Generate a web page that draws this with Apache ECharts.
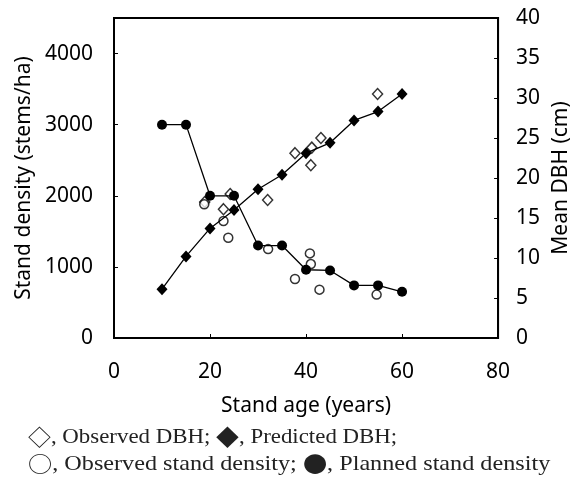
<!DOCTYPE html>
<html>
<head>
<meta charset="utf-8">
<script src="https://cdn.jsdelivr.net/npm/echarts@6/dist/echarts.min.js"></script>
<style>
  html, body { margin: 0; padding: 0; background: #fff; }
  #chart { width: 580px; height: 480px; }
</style>
</head>
<body>
<div id="chart"></div>
<script>
// stand age (years) of the model points
const ages = [10, 15, 20, 25, 30, 35, 40, 45, 50, 55, 60];
const predictedDbh = [6.1, 10.2, 13.7, 16.0, 18.6, 20.4, 23.1, 24.4, 27.2, 28.3, 30.5];
const plannedDensity = [3000, 3000, 2000, 2000, 1300, 1300, 960, 950, 740, 740, 650];

// field observations
const obsDbhAges = [18.9, 22.8, 24.2, 32.0, 37.7, 41.2, 41.0, 43.1, 54.9];
const obsDbh = [17.0, 16.1, 18.0, 17.25, 23.1, 23.8, 21.6, 25.0, 30.5];
const obsDensityAges = [18.8, 22.8, 23.8, 32.1, 37.7, 40.8, 41.0, 42.8, 54.7];
const obsDensity = [1880, 1645, 1410, 1250, 830, 1190, 1040, 680, 610];

// legend lines, {s|..} marks the symbol glyphs
const legendLines = [
  "{s|◇}, Observed DBH; {s|◆}, Predicted DBH;",
  "{s|○}, Observed stand density; {s|●}, Planned stand density"
];
const legendStretch = [1.04, 1.1];

const zip = (xs, ys) => xs.map((x, i) => [x, ys[i]]);

const chart = echarts.init(document.getElementById("chart"));

const tickFont = { color: "#000", fontSize: 21, fontFamily: "Noto Sans" };
const nameFont = { color: "#000", fontSize: 21, fontFamily: "Noto Sans" };
const blackLine = { lineStyle: { color: "#000", width: 2 } };
const tick = { inside: true, length: 4, lineStyle: { color: "#000" } };

const option = {
  animation: false,
  grid: {
    left: 114, right: 81, top: 18, bottom: 142,
    show: true, borderColor: "#000", borderWidth: 2
  },
  xAxis: {
    type: "value",
    min: 0, max: 80, interval: 20,
    name: "Stand age (years)",
    nameLocation: "middle",
    nameGap: 58,
    nameTextStyle: nameFont,
    axisLine: blackLine,
    axisTick: tick,
    axisLabel: Object.assign({ margin: 24 }, tickFont),
    splitLine: { show: false }
  },
  yAxis: [
    {
      type: "value",
      min: 0, max: 4500, interval: 1000,
      name: "Stand density (stems/ha)",
      nameLocation: "middle",
      nameGap: 78,
      nameTextStyle: nameFont,
      axisLine: blackLine,
      axisTick: tick,
      axisLabel: Object.assign({ margin: 21, showMaxLabel: false, formatter: v => String(v) }, tickFont),
      splitLine: { show: false }
    },
    {
      type: "value",
      min: 0, max: 40, interval: 5,
      name: "Mean DBH (cm)",
      nameLocation: "middle",
      nameGap: 46,
      nameRotate: 90,
      nameTextStyle: nameFont,
      axisLine: blackLine,
      axisTick: tick,
      axisLabel: Object.assign({ margin: 18 }, tickFont),
      splitLine: { show: false }
    }
  ],
  series: [
    {
      name: "Planned stand density",
      type: "line",
      yAxisIndex: 0,
      data: zip(ages, plannedDensity),
      symbol: "circle",
      symbolSize: 10,
      itemStyle: { color: "#000" },
      lineStyle: { color: "#000", width: 1.3 }
    },
    {
      name: "Predicted DBH",
      type: "line",
      yAxisIndex: 1,
      data: zip(ages, predictedDbh),
      symbol: "diamond",
      symbolSize: [11, 12],
      itemStyle: { color: "#000" },
      lineStyle: { color: "#000", width: 1.3 }
    },
    {
      name: "Observed DBH",
      type: "scatter",
      yAxisIndex: 1,
      data: zip(obsDbhAges, obsDbh),
      symbol: "diamond",
      symbolSize: [10, 11],
      itemStyle: { color: "#fff", borderColor: "#000", borderWidth: 1.5 }
    },
    {
      name: "Observed stand density",
      type: "scatter",
      yAxisIndex: 0,
      data: zip(obsDensityAges, obsDensity),
      symbol: "circle",
      symbolSize: 9,
      itemStyle: { color: "#fff", borderColor: "#000", borderWidth: 1.5 }
    }
  ],
  graphic: legendLines.map((t, i) => ({
    type: "text",
    left: 28,
    top: 426 + i * 27,
    scaleX: legendStretch[i],
    style: {
      text: t,
      fill: "#222",
      font: '22px "Liberation Serif", serif',
      rich: {
        s: { fontFamily: "Noto Sans CJK JP", fontSize: 22, fill: "#222" }
      }
    }
  }))
};

chart.setOption(option);
</script>
</body>
</html>
